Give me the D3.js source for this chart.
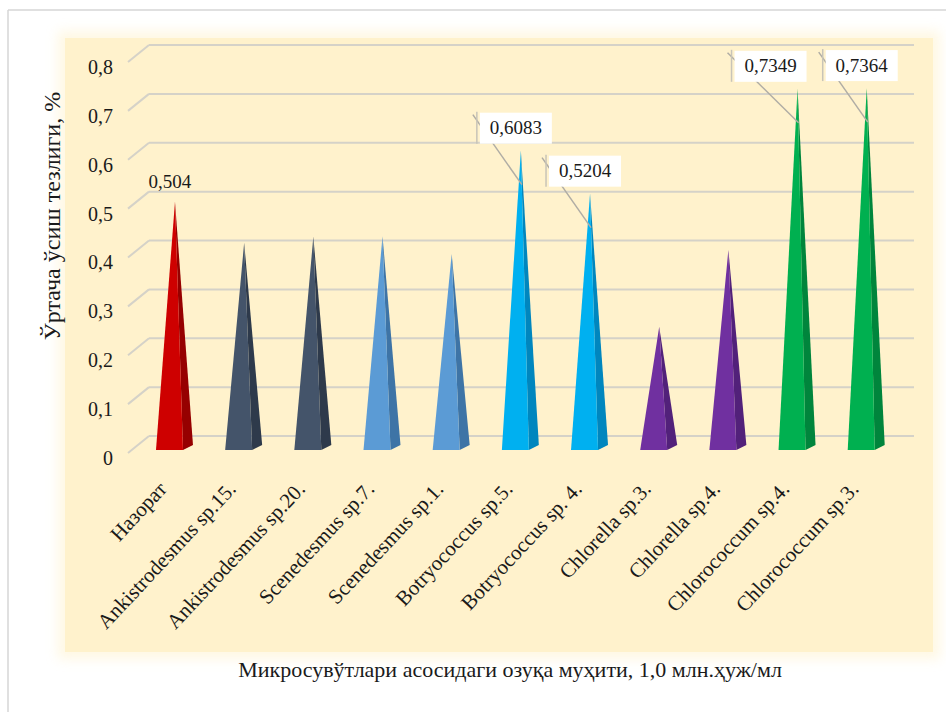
<!DOCTYPE html>
<html>
<head>
<meta charset="utf-8">
<script src="https://cdn.jsdelivr.net/npm/d3@7"></script>
<style>
  html, body { margin: 0; padding: 0; background: #ffffff; }
  svg { display: block; }
  text { font-family: "Liberation Serif", "Times New Roman", serif; fill: #1a1a1a; }
</style>
</head>
<body>
<svg id="chart" width="946" height="712"></svg>
<script>
// ---- data ----
const categories = ["Назорат", "Ankistrodesmus sp.15.", "Ankistrodesmus sp.20.", "Scenedesmus sp.7.",
  "Scenedesmus sp.1.", "Botryococcus sp.5.", "Botryococcus sp. 4.", "Chlorella sp.3.",
  "Chlorella sp.4.", "Chlorococcum sp.4.", "Chlorococcum sp.3."];
const values = [0.504, 0.42, 0.432, 0.433, 0.397, 0.6083, 0.5204, 0.248, 0.405, 0.7349, 0.7364];
const groups = ["control", "ankistro", "ankistro", "scened", "scened", "botryo", "botryo",
  "chlorella", "chlorella", "chlorococ", "chlorococ"];
const labelTexts = ["0,504", null, null, null, null, "0,6083", "0,5204", null, null, "0,7349", "0,7364"];
const yTicks = [0, 0.1, 0.2, 0.3, 0.4, 0.5, 0.6, 0.7, 0.8];
const yTitle = "Ўртача ўсиш тезлиги, %";
const xTitle = "Микросувўтлари асосидаги озуқа муҳити, 1,0 млн.ҳуж/мл";

// ---- styles ----
const FONT = "'Liberation Serif', 'Times New Roman', serif";
const frontColors = { control: "#CE0000", ankistro: "#44546A", scened: "#5B9BD5",
  botryo: "#00B0F0", chlorella: "#7030A0", chlorococ: "#00B050" };
const sideColors = { control: "#960000", ankistro: "#2E3A4B", scened: "#3E74A6",
  botryo: "#0086BE", chlorella: "#52217A", chlorococ: "#00853C" };
// label box left offset from bar center (layout only)
const labelBoxShift = [0, 0, 0, 0, 0, -44, -44, 0, 0, -66, -44];

const svg = d3.select("#chart");

// outer frame
svg.append("line").attr("x1", 8).attr("y1", 10).attr("x2", 946).attr("y2", 10)
  .attr("stroke", "#d6d6d6").attr("stroke-width", 1.5);
svg.append("line").attr("x1", 8).attr("y1", 10).attr("x2", 8).attr("y2", 712)
  .attr("stroke", "#d6d6d6").attr("stroke-width", 1.5);

// plot background with soft glow
const defs = svg.append("defs");
defs.append("filter").attr("id", "glow").attr("x", "-10%").attr("y", "-10%").attr("width", "120%").attr("height", "120%")
  .append("feGaussianBlur").attr("stdDeviation", 6);
svg.append("rect").attr("x", 58).attr("y", 31).attr("width", 882).attr("height", 628)
  .attr("fill", "#FFF2CC").attr("opacity", 0.55).attr("filter", "url(#glow)");
svg.append("rect").attr("x", 65).attr("y", 38).attr("width", 868).attr("height", 614)
  .attr("fill", "#FFF2CC");

// scales
const x = d3.scalePoint().domain(categories).range([140.4, 901.3]).padding(0.5);
const y = d3.scaleLinear().domain([0, 0.8]).range([453, 62]);
const depthX = 21, depthY = -17;
const axisX = 128;

// gridlines (back wall) + floor diagonals
const grid = svg.append("g");
yTicks.forEach(t => {
  const yy = y(t);
  grid.append("line").attr("x1", axisX + depthX).attr("y1", yy + depthY)
    .attr("x2", 914).attr("y2", yy + depthY)
    .attr("stroke", "#d5d2c8").attr("stroke-width", 2);
  grid.append("line").attr("x1", axisX).attr("y1", yy)
    .attr("x2", axisX + depthX).attr("y2", yy + depthY)
    .attr("stroke", "#d5d2c8").attr("stroke-width", 2);
});

// y tick labels via axis
const yAxis = d3.axisLeft(y).tickValues(yTicks).tickSize(0).tickPadding(0)
  .tickFormat(d => d3.format(".1~f")(d).replace(".", ","));
const yAxisG = svg.append("g").attr("transform", "translate(113,5)").call(yAxis)
  .attr("font-family", FONT).attr("font-size", 20);
yAxisG.select(".domain").remove();
yAxisG.selectAll("text").attr("fill", "#1a1a1a");

// pyramids
const baseY = y(0) - 3;
const bars = svg.append("g");
categories.forEach((c, i) => {
  const cx = x(c);
  const apexY = y(values[i]) - 5;
  const fl = cx - 19, fr = cx + 8, br = cx + 18;
  const g = groups[i];
  bars.append("path")
    .attr("d", `M${fr},${baseY} L${br},${baseY - 5} L${cx},${apexY} Z`)
    .attr("fill", sideColors[g]);
  bars.append("path")
    .attr("d", `M${fl},${baseY} L${fr},${baseY} L${cx},${apexY} Z`)
    .attr("fill", frontColors[g]);
});

// data labels
const labs = svg.append("g").attr("font-family", FONT);
categories.forEach((c, i) => {
  const txt = labelTexts[i];
  if (!txt) return;
  const cx = x(c);
  const apexY = y(values[i]) - 5;
  if (labelBoxShift[i] === 0) {
    labs.append("text").attr("x", cx - 5).attr("y", apexY - 20)
      .attr("text-anchor", "middle").attr("dominant-baseline", "central")
      .attr("font-size", 19).text(txt);
    return;
  }
  const left = cx + labelBoxShift[i];
  const ty = apexY - 23;
  labs.append("line").attr("x1", left - 4).attr("y1", ty - 13)
    .attr("x2", cx + 1).attr("y2", apexY + 34)
    .attr("stroke", "#b0ada5").attr("stroke-width", 1.5);
  labs.append("rect").attr("x", left + 3).attr("y", ty - 15).attr("width", 72).attr("height", 31)
    .attr("fill", "#ffffff");
  labs.append("line").attr("x1", left).attr("y1", ty - 16).attr("x2", left).attr("y2", ty + 16)
    .attr("stroke", "#c8c4b8").attr("stroke-width", 1.5);
  labs.append("text").attr("x", left + 39).attr("y", ty)
    .attr("text-anchor", "middle").attr("dominant-baseline", "central")
    .attr("font-size", 19).text(txt);
});

// x category labels
const xl = svg.append("g").attr("font-family", FONT);
categories.forEach(c => {
  const cx = x(c);
  xl.append("text")
    .attr("transform", `translate(${cx - 7},${490}) rotate(-47)`)
    .attr("text-anchor", "end")
    .attr("font-size", 21).text(c);
});

// axis titles
svg.append("text").attr("transform", "translate(60,216) rotate(-90)")
  .attr("text-anchor", "middle").attr("font-family", FONT).attr("font-size", 24)
  .text(yTitle);
svg.append("text").attr("x", 510).attr("y", 677).attr("text-anchor", "middle")
  .attr("font-family", FONT).attr("font-size", 22).text(xTitle);
</script>
</body>
</html>
